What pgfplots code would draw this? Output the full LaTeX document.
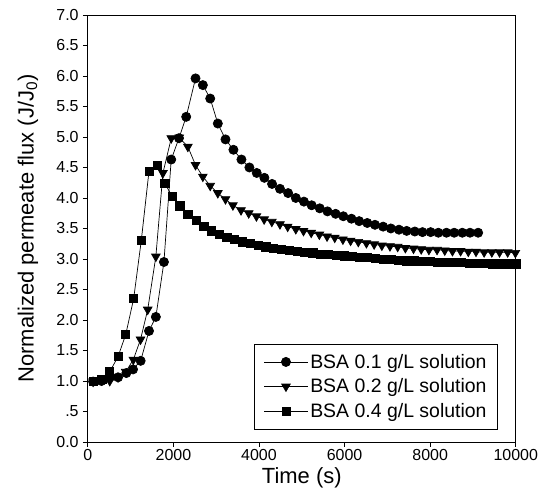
\documentclass[border=0pt]{standalone}
\usepackage{pgfplots}
\pgfplotsset{compat=1.18}
\usepackage{fontspec}
\setmainfont{Liberation Sans}
\usetikzlibrary{calc}

\begin{document}
\begin{tikzpicture}
\begin{axis}[
  name=ax,
  scale only axis,
  width=429pt, height=428pt,
  xmin=0, xmax=10000, ymin=0, ymax=7,
  xtick={0,2000,4000,6000,8000,10000},
  ytick={0,0.5,1,1.5,2,2.5,3,3.5,4,4.5,5,5.5,6,6.5,7},
  yticklabels={0.0,.5,1.0,1.5,2.0,2.5,3.0,3.5,4.0,4.5,5.0,5.5,6.0,6.5,7.0},
  scaled x ticks=false,
  /pgf/number format/set thousands separator={},
  /pgf/number format/assume math mode=true,
  tick align=outside,
  tick pos=left,
  major tick length=5pt,
  axis line style={line width=0.7pt},
  every tick/.style={line width=0.7pt, black},
  tick label style={font=\fontsize{16}{19}\selectfont, inner sep=1pt},
  xticklabel style={yshift=-1pt},
  yticklabel style={xshift=-3pt},
  xlabel={Time (s)},
  ylabel={Normalized permeate flux (J/J$_{\mathrm{0}}$)},
  label style={font=\fontsize{22}{26}\selectfont, inner sep=0pt},
  xlabel style={at={(axis description cs:0.5,0)}, anchor=north, yshift=-25pt},
  ylabel style={at={(axis description cs:-0.14,0.5)}, anchor=center},
  legend style={at={(axis description cs:0.958,0.03)}, anchor=south east,
    draw=black, line width=0.6pt, font=\fontsize{19.5}{22}\selectfont,
    inner xsep=9pt, inner ysep=8pt, row sep=5pt,
    /tikz/every even column/.append style={column sep=5pt}},
  legend cell align=left,
  legend image code/.code={
    \draw[mark repeat=2,mark phase=2,#1] plot coordinates {(0pt,0pt) (22pt,0pt) (44pt,0pt)};
  },
  every axis plot/.append style={black, line width=0.7pt},
]
\addplot[mark=*, mark size=4.6pt] coordinates {
(124,0.99) (320,1.00) (513,1.06) (707,1.06) (901,1.13) (1057,1.19) (1235,1.33)
(1430,1.82) (1590,2.05) (1779,2.95) (1949,4.63) (2130,4.98) (2299,5.33) (2517,5.96)
(2688,5.85) (2860,5.63) (3038,5.22) (3217,4.96) (3403,4.79) (3590,4.63) (3776,4.50)
(3947,4.41) (4126,4.33) (4305,4.23) (4490,4.15) (4680,4.08) (4860,4.00) (5050,3.94)
(5230,3.88) (5420,3.83) (5600,3.78) (5790,3.74) (5970,3.70) (6160,3.66) (6340,3.62)
(6530,3.59) (6710,3.56) (6900,3.53) (7080,3.50) (7270,3.48) (7450,3.46) (7640,3.45)
(7820,3.44) (8010,3.44) (8190,3.43) (8380,3.43) (8560,3.43) (8750,3.43) (8930,3.43)
(9120,3.43)
};
\addlegendentry{BSA 0.1 g/L solution}
\addplot[mark=triangle*, mark size=5pt, mark options={rotate=180}] coordinates {
(124,0.99) (330,1.01) (513,1.00) (707,1.06) (886,1.15) (1064,1.35) (1232,1.68)
(1400,2.17) (1590,3.04) (1756,4.41) (1950,4.98) (2135,4.99) (2338,4.84) (2517,4.54)
(2688,4.35) (2860,4.20) (3038,4.08) (3217,3.98) (3390,3.88) (3580,3.80) (3760,3.75)
(3940,3.70) (4120,3.65) (4300,3.61) (4490,3.57) (4670,3.53) (4860,3.49) (5040,3.46)
(5220,3.43) (5410,3.40) (5590,3.37) (5770,3.35) (5960,3.32) (6140,3.30) (6320,3.28)
(6510,3.26) (6690,3.24) (6870,3.22) (7060,3.21) (7240,3.20) (7420,3.18) (7610,3.17)
(7790,3.16) (7970,3.15) (8160,3.15) (8340,3.14) (8520,3.13) (8710,3.13) (8890,3.12)
(9070,3.12) (9260,3.11) (9440,3.11) (9620,3.11) (9810,3.11) (9990,3.10)
};
\addlegendentry{BSA 0.2 g/L solution}
\addplot[mark=square*, mark size=4.1pt] coordinates {
(124,1.00) (330,1.03) (513,1.15) (707,1.40) (886,1.76) (1072,2.35) (1251,3.31)
(1430,4.44) (1616,4.53) (1800,4.24) (1974,4.02) (2150,3.87) (2338,3.73) (2533,3.63)
(2710,3.53) (2890,3.46) (3070,3.40) (3250,3.36) (3430,3.32) (3610,3.28) (3800,3.25)
(3980,3.22) (4160,3.20) (4340,3.18) (4530,3.16) (4710,3.14) (4890,3.12) (5070,3.11)
(5260,3.10) (5440,3.08) (5620,3.07) (5800,3.06) (5990,3.05) (6170,3.04) (6350,3.03)
(6530,3.02) (6720,3.01) (6900,3.00) (7080,2.99) (7260,2.98) (7450,2.97) (7630,2.97)
(7810,2.96) (7990,2.96) (8180,2.95) (8360,2.95) (8540,2.94) (8720,2.94) (8910,2.93)
(9090,2.93) (9270,2.93) (9450,2.92) (9640,2.92) (9820,2.92) (10000,2.92)
};
\addlegendentry{BSA 0.4 g/L solution}
\end{axis}
\path ($(ax.south west)+(-88pt,-52pt)$) rectangle ($(ax.north east)+(23pt,15pt)$);
\end{tikzpicture}
\end{document}
